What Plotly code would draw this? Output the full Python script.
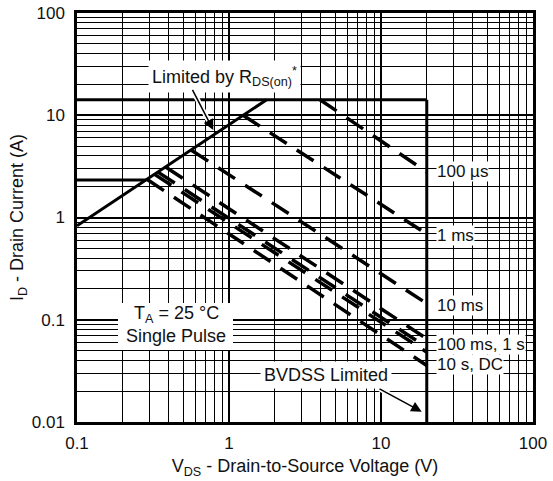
import math
import plotly.graph_objects as go

# ---------------- data ----------------
# R_DS(on) limit line
rds_v = [0.1, 1.77]
rds_i = [0.83, 14.2]
# pulsed current limit (horizontal)
idm_v = [0.1, 20.0]
idm_i = [14.2, 14.2]
# continuous current limit (horizontal)
id_v = [0.1, 0.285]
id_i = [2.33, 2.33]
# BVDSS limit (vertical)
bv_v = [20.0, 20.0]
bv_i = [14.2, 0.01]

# pulse-width lines (start point, end point)
pulse_names = ["100 µs", "1 ms", "10 ms", "100 ms", "1 s", "10 s", "DC"]
pulse_v0 = [3.97, 1.236, 0.566, 0.385, 0.341, 0.324, 0.29]
pulse_i0 = [14.2, 10.0, 4.55, 3.1, 2.78, 2.64, 2.35]
pulse_v1 = [20.0, 20.0, 20.0, 20.0, 20.0, 20.0, 20.0]
pulse_i1 = [2.79, 0.69, 0.144, 0.0652, 0.0539, 0.0482, 0.0357]

# pulse labels (text, current where the label sits at 20 V)
label_text = ["100 µs", "1 ms", "10 ms", "100 ms, 1 s", "10 s, DC"]
label_i = [2.79, 0.67, 0.139, 0.0575, 0.0365]

x_tickvals = [0.1, 1, 10, 100]
x_ticktext = ["0.1", "1", "10", "100"]
y_tickvals = [0.01, 0.1, 1, 10, 100]
y_ticktext = ["0.01", "0.1", "1", "10", "100"]

# ---------------- layout geometry ----------------
W, H = 553, 481
L, R, T, B = 77, 20, 13, 59
PW, PH = W - L - R, H - T - B

FONT = "Liberation Sans, Arial, Helvetica, sans-serif"
TXT = "#111111"


def paper(xp, yp):
    return (xp - L) / PW, (H - B - yp) / PH


def minor_vals(lo, hi):
    vals = []
    for e in range(lo, hi):
        for m in range(2, 10):
            vals.append(m * 10 ** e)
    return vals


fig = go.Figure()

solid = dict(color="black", width=3)
fig.add_trace(go.Scatter(x=rds_v, y=rds_i, mode="lines", line=solid, hoverinfo="skip"))
fig.add_trace(go.Scatter(x=idm_v, y=idm_i, mode="lines", line=solid, hoverinfo="skip"))
fig.add_trace(go.Scatter(x=id_v, y=id_i, mode="lines", line=solid, hoverinfo="skip"))
fig.add_trace(go.Scatter(x=bv_v, y=bv_i, mode="lines", line=solid, hoverinfo="skip"))

for name, v0, i0, v1, i1 in zip(pulse_names, pulse_v0, pulse_i0, pulse_v1, pulse_i1):
    fig.add_trace(go.Scatter(x=[v0, v1], y=[i0, i1], mode="lines", name=name,
                             line=dict(color="black", width=3.5, dash="20px,12px"),
                             hoverinfo="skip"))

annotations = []

# pulse labels to the right of the 20 V line
for txt, i in zip(label_text, label_i):
    annotations.append(dict(x=math.log10(20), y=math.log10(i), xref="x", yref="y",
                            text=txt, showarrow=False, xanchor="left", yanchor="middle",
                            xshift=9, bgcolor="white", borderpad=0,
                            font=dict(family=FONT, size=17, color=TXT)))

# "Limited by RDS(on)*" label
px, py = paper(224, 76)
annotations.append(dict(x=px, y=py, xref="paper", yref="paper",
                        text="Limited by R<sub>DS(on)</sub><sup>*</sup>", showarrow=False,
                        xanchor="center", yanchor="middle", bgcolor="white", borderpad=3,
                        font=dict(family=FONT, size=18, color=TXT)))

# "BVDSS Limited" label
px, py = paper(326, 375)
annotations.append(dict(x=px, y=py, xref="paper", yref="paper",
                        text="BVDSS Limited", showarrow=False,
                        xanchor="center", yanchor="middle", bgcolor="white", borderpad=3,
                        font=dict(family=FONT, size=18, color=TXT)))

# TA box text
px, py = paper(176, 314)
annotations.append(dict(x=px, y=py, xref="paper", yref="paper",
                        text="T<sub>A</sub> = 25 °C", showarrow=False,
                        xanchor="center", yanchor="middle",
                        font=dict(family=FONT, size=18, color=TXT)))
px, py = paper(176, 336)
annotations.append(dict(x=px, y=py, xref="paper", yref="paper",
                        text="Single Pulse", showarrow=False,
                        xanchor="center", yanchor="middle",
                        font=dict(family=FONT, size=18, color=TXT)))

# arrows (white halo, then black arrow)
arrows = [((191.7, 88.3), (213.3, 130.0)), ((378.0, 388.0), (421.7, 411.7))]
for (tx, ty), (hx, hy) in arrows:
    hpx, hpy = paper(hx, hy)
    annotations.append(dict(x=hpx, y=hpy, xref="paper", yref="paper", text="",
                            showarrow=True, ax=tx - hx, ay=ty - hy, axref="pixel", ayref="pixel",
                            arrowhead=0, arrowwidth=5, arrowcolor="white", standoff=4))
    annotations.append(dict(x=hpx, y=hpy, xref="paper", yref="paper", text="",
                            showarrow=True, ax=tx - hx, ay=ty - hy, axref="pixel", ayref="pixel",
                            arrowhead=2, arrowsize=1.4, arrowwidth=1.5, arrowcolor="black"))

# white box behind TA text
x0, y0 = paper(118, 350)
x1, y1 = paper(233, 303)
shapes = [dict(type="rect", xref="paper", yref="paper", x0=x0, y0=y0, x1=x1, y1=y1,
               fillcolor="white", line=dict(width=0), layer="above")]

axis_common = dict(
    type="log", automargin=False,
    showline=True, linecolor="black", linewidth=2.5, mirror=True,
    showgrid=True, gridcolor="black", gridwidth=1.5,
    ticks="", zeroline=False,
    tickfont=dict(family=FONT, size=17, color=TXT),
)

fig.update_layout(
    width=W, height=H,
    margin=dict(l=L, r=R, t=T, b=B, autoexpand=False),
    paper_bgcolor="white", plot_bgcolor="white",
    showlegend=False,
    annotations=annotations,
    shapes=shapes,
    xaxis=dict(axis_common, range=[-1, 2], tickvals=x_tickvals, ticktext=x_ticktext,
               ticklabelstandoff=4,
               minor=dict(tickvals=minor_vals(-1, 2), showgrid=True, gridcolor="black",
                          gridwidth=1, ticks=""),
               title=dict(text="V<sub>DS</sub> - Drain-to-Source Voltage (V)", standoff=8,
                          font=dict(family=FONT, size=18, color=TXT))),
    yaxis=dict(axis_common, range=[-2, 2], tickvals=y_tickvals, ticktext=y_ticktext,
               ticklabelstandoff=6,
               minor=dict(tickvals=minor_vals(-2, 2), showgrid=True, gridcolor="black",
                          gridwidth=1, ticks=""),
               title=dict(text="I<sub>D</sub> - Drain Current (A)", standoff=4,
                          font=dict(family=FONT, size=18, color=TXT))),
)

fig.write_html("out.html", config={"displayModeBar": False},
               post_script="document.body.style.margin='0';document.body.style.overflow='hidden';")
